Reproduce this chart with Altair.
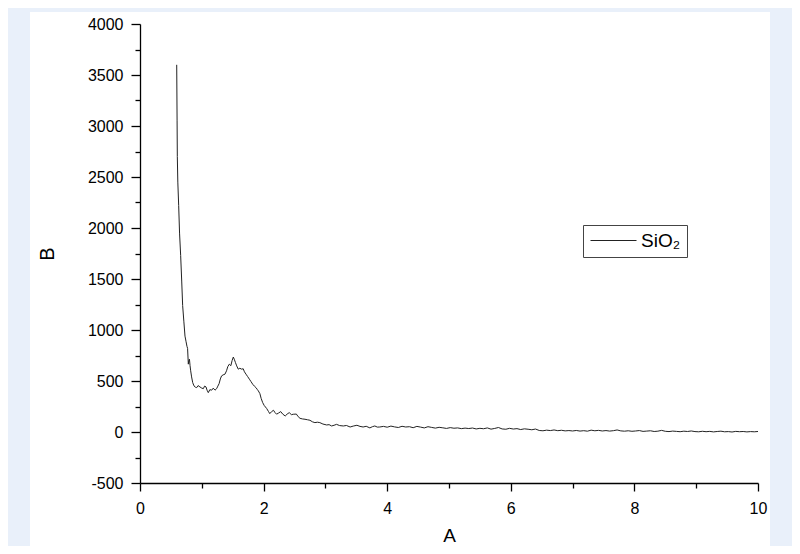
import altair as alt
import pandas as pd

# Data
xs = [0.594, 0.600, 0.604, 0.612, 0.626, 0.640, 0.658, 0.675, 0.690, 0.710,
      0.728, 0.744, 0.760, 0.770, 0.782, 0.790, 0.800, 0.810, 0.820, 0.835,
      0.853, 0.874, 0.895, 0.917, 0.940, 0.970, 1.000, 1.025, 1.045, 1.068,
      1.085, 1.105, 1.130, 1.160, 1.185, 1.214, 1.240, 1.260, 1.280, 1.300,
      1.320, 1.345, 1.375, 1.400, 1.420, 1.445, 1.470, 1.490, 1.510, 1.525,
      1.545, 1.565, 1.590, 1.615, 1.645, 1.670, 1.690, 1.715, 1.740, 1.770,
      1.795, 1.824, 1.850, 1.877, 1.900, 1.915, 1.940, 1.960, 1.985, 2.010,
      2.050, 2.080, 2.100, 2.130, 2.160, 2.185, 2.210, 2.240, 2.277, 2.310,
      2.350, 2.380, 2.415, 2.450, 2.480, 2.530, 2.560, 2.590, 2.630, 2.670,
      2.710, 2.750, 2.790, 2.830, 2.870, 2.910, 2.960, 3.020, 3.060, 3.100,
      3.140, 3.180, 3.230, 3.290, 3.340, 3.400, 3.450, 3.510, 3.560, 3.610,
      3.660, 3.720, 3.760, 3.800, 3.840, 3.880, 3.940, 4.000, 4.060, 4.120,
      4.180, 4.240, 4.300, 4.360, 4.420, 4.480, 4.540, 4.600, 4.660, 4.720,
      4.780, 4.840, 4.900, 4.960, 5.020, 5.080, 5.140, 5.200, 5.260, 5.320,
      5.380, 5.440, 5.500, 5.560, 5.620, 5.680, 5.740, 5.800, 5.860, 5.920,
      5.980, 6.040, 6.100, 6.160, 6.220, 6.280, 6.340, 6.400, 6.460, 6.520,
      6.580, 6.640, 6.700, 6.760, 6.820, 6.880, 6.940, 7.000, 7.060, 7.120,
      7.180, 7.240, 7.300, 7.360, 7.420, 7.480, 7.540, 7.600, 7.660, 7.720,
      7.780, 7.840, 7.900, 7.960, 8.020, 8.080, 8.140, 8.200, 8.260, 8.320,
      8.380, 8.440, 8.500, 8.560, 8.620, 8.680, 8.740, 8.800, 8.860, 8.920,
      8.980, 9.040, 9.100, 9.160, 9.220, 9.280, 9.340, 9.400, 9.460, 9.520,
      9.580, 9.640, 9.700, 9.760, 9.820, 9.880, 9.940, 10.000]
ys = [3600, 3050, 2700, 2450, 2220, 1950, 1730, 1480, 1240, 1080,
      940, 890, 840, 820, 665, 700, 714, 650, 600, 540,
      484, 452, 440, 435, 455, 442, 430, 425, 450, 442,
      410, 386, 415, 410, 430, 410, 425, 450, 474, 520,
      550, 560, 567, 600, 640, 665, 650, 700, 735, 714,
      680, 648, 616, 625, 616, 620, 590, 567, 545, 518,
      495, 468, 450, 435, 415, 403, 376, 330, 288, 260,
      230, 200, 180, 200, 213, 190, 175, 185, 200, 175,
      157, 175, 190, 170, 174, 176, 150, 134, 128, 125,
      120, 115, 100, 92, 96, 92, 78, 69, 72, 59,
      66, 75, 63, 59, 64, 49, 58, 66, 55, 49,
      56, 40, 52, 59, 48, 49, 55, 47, 58, 50,
      44, 56, 49, 52, 42, 55, 48, 40, 52, 45,
      38, 46, 41, 35, 43, 37, 40, 33, 38, 34,
      39, 30, 36, 32, 40, 28, 35, 44, 30, 27,
      36, 29, 33, 24, 31, 27, 22, 29, 15, 12,
      18, 14, 20, 13, 17, 11, 14, 10, 15, 9,
      13, 8, 18, 12, 16, 10, 14, 9, 13, 20,
      11, 8, 12, 7, 10, 14, 6, 9, 12, 5,
      8, 16, 7, 4, 9, 6, 3, 8, 5, 10,
      4, 2, 7, 3, 6, 1, 5, 8, 2, 4,
      0, 6, 3, 5, 1, 4, 2, 5]
series_name = "SiO₂"

x_ticks = [0, 1, 2, 3, 4, 5, 6, 7, 8, 9, 10]
y_ticks = [-500, -250, 0, 250, 500, 750, 1000, 1250, 1500, 1750, 2000, 2250,
           2500, 2750, 3000, 3250, 3500, 3750, 4000]

df = pd.DataFrame({"A": xs, "B": ys, "series": [series_name] * len(xs)})

FONT = "Liberation Sans"

panel = alt.Chart(pd.DataFrame({"k": [0]})).mark_rect(color="white").encode(
    x=alt.value(-110), x2=alt.value(630), y=alt.value(-12), y2=alt.value(540)
)

line = alt.Chart(df).mark_line(strokeWidth=1, interpolate="linear").encode(
    x=alt.X(
        "A:Q",
        scale=alt.Scale(domain=[0, 10], nice=False, zero=False),
        axis=alt.Axis(
            values=x_ticks,
            labelExpr="datum.value % 2 === 0 ? '' + datum.value : ''",
            tickSize={"condition": {"test": "datum.value % 2 === 0", "value": 8}, "value": 5},
            grid=False,
            zindex=1,
            labelFlush=False,
            domainColor="black",
            tickColor="black",
            domainWidth=1.3,
            tickWidth=1.3,
            labelFontSize=16,
            labelColor="black",
            labelPadding=9,
            labelFont=FONT,
            title="A",
            titleFont=FONT,
            titleFontSize=19,
            titleFontWeight="normal",
            titleColor="black",
            titlePadding=10,
        ),
    ),
    y=alt.Y(
        "B:Q",
        scale=alt.Scale(domain=[-500, 4000], nice=False, zero=False),
        axis=alt.Axis(
            values=y_ticks,
            labelExpr="datum.value % 500 === 0 ? '' + datum.value : ''",
            tickSize={"condition": {"test": "datum.value % 500 === 0", "value": 9}, "value": 5},
            grid=False,
            zindex=1,
            domainColor="black",
            tickColor="black",
            domainWidth=1.3,
            tickWidth=1.3,
            labelFontSize=16,
            labelColor="black",
            labelPadding=8,
            labelFont=FONT,
            title="B",
            titleFont=FONT,
            titleFontSize=20,
            titleFontWeight="normal",
            titleColor="black",
            titlePadding=30,
        ),
    ),
    color=alt.Color(
        "series:N",
        scale=alt.Scale(range=["#222222"]),
        legend=alt.Legend(
            title=None,
            orient="none",
            legendX=443,
            legendY=201,
            symbolType="M-1,0H4.75",
            symbolSize=256,
            symbolStrokeWidth=1,
            labelFont=FONT,
            labelFontSize=19,
            labelColor="black",
            strokeColor="#444444",
            fillColor="white",
            padding=6,
            labelOffset=33,
        ),
    ),
)

chart = alt.layer(panel, line).properties(
    width=618,
    height=459,
    autosize=alt.AutoSizeParams(type="none"),
    padding={"left": 132, "top": 16, "right": 34, "bottom": 63},
    background="#e9f0fa",
).configure_view(stroke=None)

chart.save("out.html", embed_options={"renderer": "svg", "actions": False})
